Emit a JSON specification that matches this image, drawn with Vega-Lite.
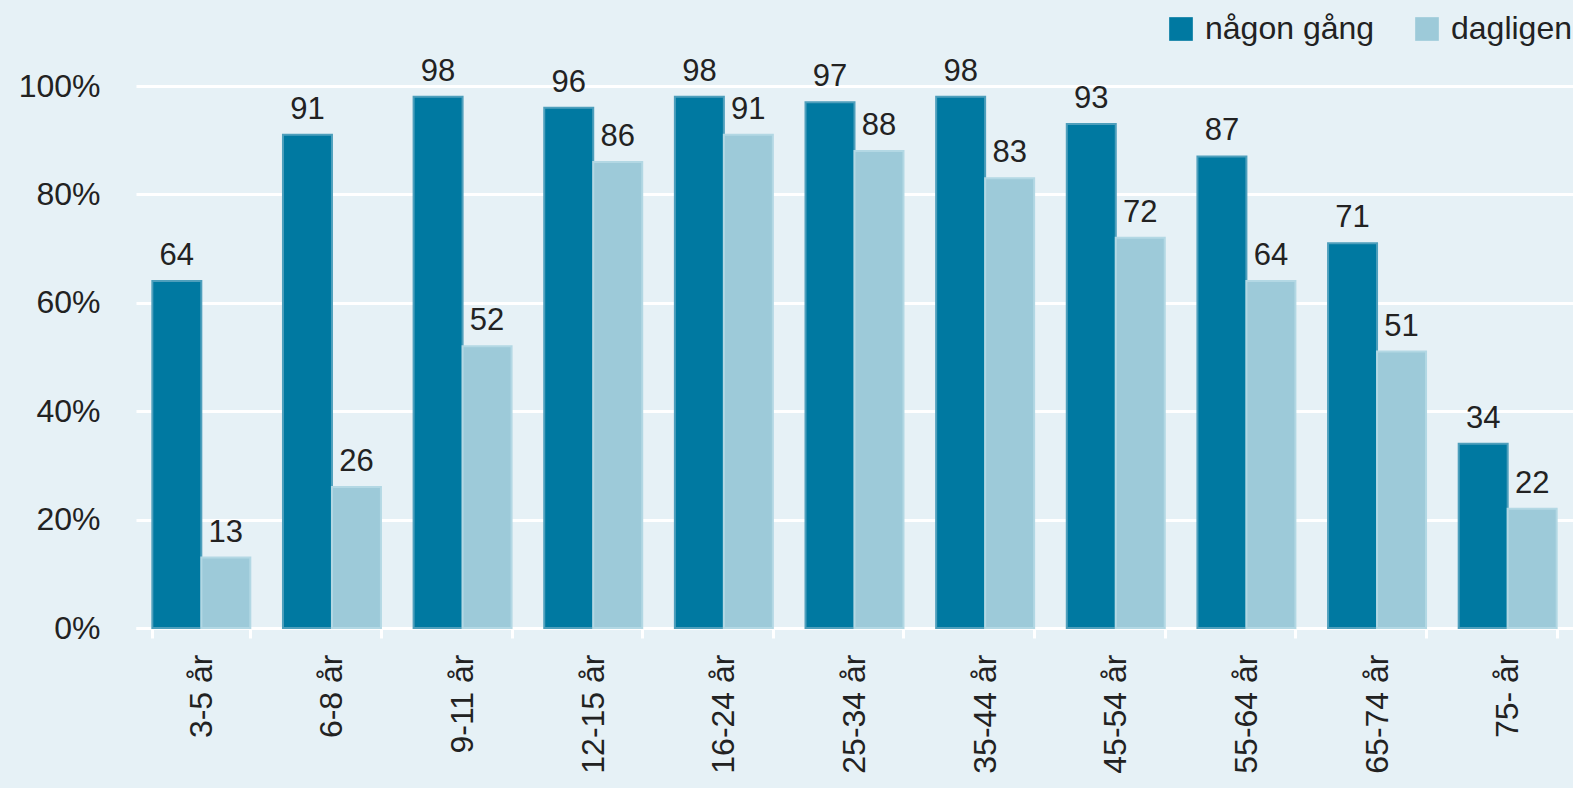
{
  "$schema": "https://vega.github.io/schema/vega-lite/v6.json",
  "width": 1437,
  "height": 542,
  "autosize": {"type": "none"},
  "padding": {"left": 136, "top": 86, "right": 0, "bottom": 160},
  "background": "#e6f1f6",
  "config": {
    "view": {"stroke": null},
    "font": "Liberation Sans",
    "axis": {"labelFont": "Liberation Sans", "labelColor": "#222222"},
    "legend": {"labelFont": "Liberation Sans"}
  },
  "data": {
    "values": [
      {"age": "3-5 år", "serie": "någon gång", "value": 64},
      {"age": "3-5 år", "serie": "dagligen", "value": 13},
      {"age": "6-8 år", "serie": "någon gång", "value": 91},
      {"age": "6-8 år", "serie": "dagligen", "value": 26},
      {"age": "9-11 år", "serie": "någon gång", "value": 98},
      {"age": "9-11 år", "serie": "dagligen", "value": 52},
      {"age": "12-15 år", "serie": "någon gång", "value": 96},
      {"age": "12-15 år", "serie": "dagligen", "value": 86},
      {"age": "16-24 år", "serie": "någon gång", "value": 98},
      {"age": "16-24 år", "serie": "dagligen", "value": 91},
      {"age": "25-34 år", "serie": "någon gång", "value": 97},
      {"age": "25-34 år", "serie": "dagligen", "value": 88},
      {"age": "35-44 år", "serie": "någon gång", "value": 98},
      {"age": "35-44 år", "serie": "dagligen", "value": 83},
      {"age": "45-54 år", "serie": "någon gång", "value": 93},
      {"age": "45-54 år", "serie": "dagligen", "value": 72},
      {"age": "55-64 år", "serie": "någon gång", "value": 87},
      {"age": "55-64 år", "serie": "dagligen", "value": 64},
      {"age": "65-74 år", "serie": "någon gång", "value": 71},
      {"age": "65-74 år", "serie": "dagligen", "value": 51},
      {"age": "75- år", "serie": "någon gång", "value": 34},
      {"age": "75- år", "serie": "dagligen", "value": 22}
    ]
  },
  "encoding": {
    "x": {
      "field": "age",
      "type": "nominal",
      "sort": null,
      "title": null,
      "scale": {"paddingInner": 0.25, "paddingOuter": 0.125},
      "axis": {
        "labelAngle": -90,
        "labelFontSize": 32,
        "labelPadding": 16,
        "domainColor": "#ffffff",
        "domainWidth": 3,
        "tickColor": "#ffffff",
        "tickWidth": 3,
        "tickSize": 10,
        "tickBand": "extent",
        "grid": false
      }
    },
    "xOffset": {"field": "serie", "type": "nominal", "sort": ["någon gång", "dagligen"]},
    "y": {
      "field": "value",
      "type": "quantitative",
      "title": null,
      "scale": {"domain": [0, 100], "nice": false},
      "axis": {
        "values": [0, 20, 40, 60, 80, 100],
        "labelExpr": "datum.value + '%'",
        "labelFontSize": 32,
        "labelPadding": 36,
        "domain": false,
        "ticks": false,
        "grid": true,
        "gridColor": "#ffffff",
        "gridWidth": 3
      }
    }
  },
  "layer": [
    {
      "mark": {"type": "bar", "strokeWidth": 2},
      "encoding": {
        "color": {
          "field": "serie",
          "type": "nominal",
          "sort": ["någon gång", "dagligen"],
          "scale": {"domain": ["någon gång", "dagligen"], "range": ["#0079a1", "#9dcad9"]},
          "legend": {
            "title": null,
            "orient": "none",
            "direction": "horizontal",
            "legendX": 1029,
            "legendY": -73,
            "symbolType": "square",
            "symbolSize": 560,
            "symbolStrokeWidth": 0,
            "labelFontSize": 32,
            "labelLimit": 400,
            "labelColor": "#222222",
            "labelOffset": 8,
            "columnPadding": 36
          }
        },
        "stroke": {
          "field": "serie",
          "type": "nominal",
          "scale": {"domain": ["någon gång", "dagligen"], "range": ["#4e9fbc", "#b3d8e4"]},
          "legend": null
        }
      }
    },
    {
      "mark": {"type": "text", "baseline": "alphabetic", "dy": -16, "fontSize": 31, "color": "#222222"},
      "encoding": {"text": {"field": "value", "type": "quantitative"}}
    }
  ]
}
